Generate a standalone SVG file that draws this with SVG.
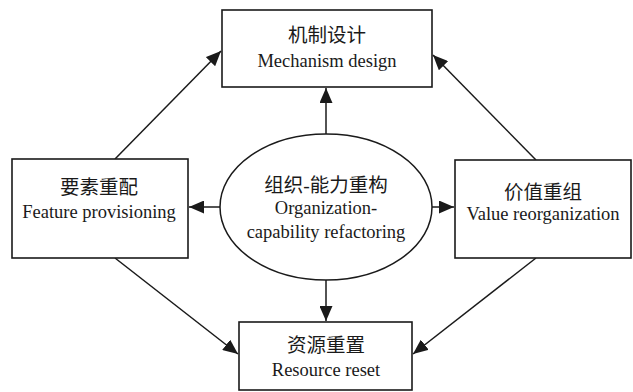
<svg xmlns="http://www.w3.org/2000/svg" width="633" height="392" viewBox="0 0 633 392">
<style>
.box{fill:#fff;stroke:#1a1a1a;stroke-width:1.6}
.t{font-family:"Liberation Serif","Noto Sans CJK SC",serif;font-size:18.5px;fill:#1a1a1a;text-anchor:middle}
.c{font-size:19.5px}
.e{stroke:#1a1a1a;stroke-width:1.5;fill:none;marker-end:url(#ah)}
</style>
<defs>
<marker id="ah" viewBox="0 0 15 13" refX="15" refY="6.5" markerWidth="15" markerHeight="13" markerUnits="userSpaceOnUse" orient="auto">
<path d="M0,0 L15,6.5 L0,13 Z" fill="#1a1a1a"/>
</marker>
</defs>
<rect width="633" height="392" fill="#fff"/>
<g id="connectors">
<line class="e" x1="115" y1="159" x2="221" y2="51"/>
<line class="e" x1="536" y1="160" x2="433" y2="55"/>
<line class="e" x1="326" y1="134" x2="326" y2="88"/>
<line class="e" x1="220" y1="207" x2="189" y2="207"/>
<line class="e" x1="432" y1="207" x2="454" y2="207"/>
<line class="e" x1="326" y1="280" x2="326" y2="321"/>
<line class="e" x1="115" y1="258" x2="238" y2="354"/>
<line class="e" x1="536" y1="258" x2="413" y2="354"/>
</g>
<g id="mechanism">
<rect class="box" x="222" y="10" width="210" height="77"/>
<text class="t c" x="327" y="42">机制设计</text>
<text class="t" x="327" y="67">Mechanism design</text>
</g>
<g id="feature">
<rect class="box" x="12" y="159" width="176" height="99"/>
<text class="t c" x="99" y="194">要素重配</text>
<text class="t" x="99" y="218">Feature provisioning</text>
</g>
<g id="core">
<ellipse cx="326" cy="207" rx="106" ry="73" fill="#fff" stroke="#1a1a1a" stroke-width="1.5"/>
<text class="t c" x="326" y="192">组织-能力重构</text>
<text class="t" x="326" y="214">Organization-</text>
<text class="t" x="326" y="238">capability refactoring</text>
</g>
<g id="value">
<rect class="box" x="455" y="160" width="176" height="98"/>
<text class="t c" x="543" y="199">价值重组</text>
<text class="t" x="543" y="220">Value reorganization</text>
</g>
<g id="resource">
<rect class="box" x="239" y="322" width="173" height="68"/>
<text class="t c" x="326" y="352">资源重置</text>
<text class="t" x="326" y="376">Resource reset</text>
</g>
</svg>
